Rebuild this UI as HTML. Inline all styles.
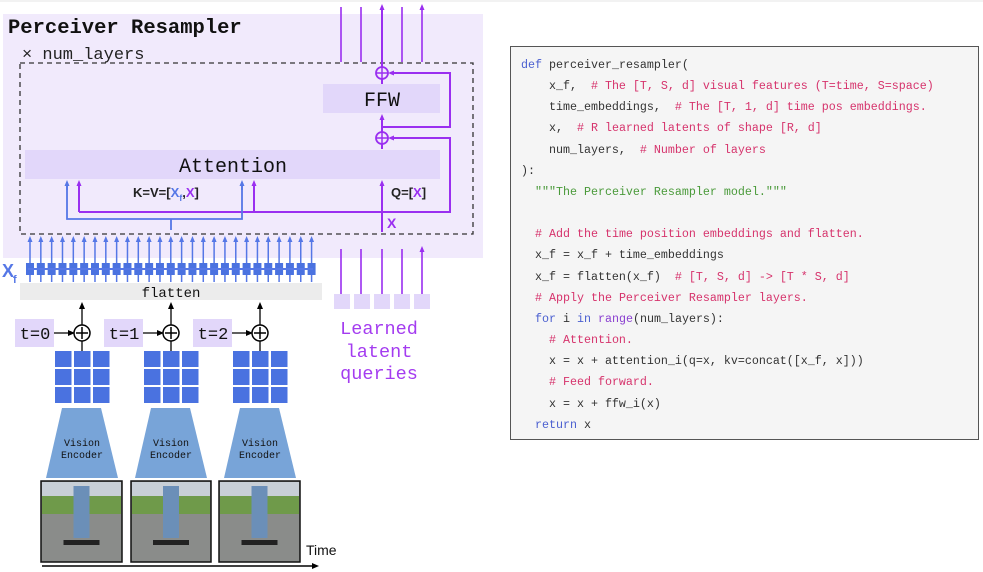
<!DOCTYPE html>
<html><head><meta charset="utf-8"><style>
body{margin:0;background:#fff;width:983px;height:572px;overflow:hidden;position:relative;font-family:"Liberation Sans",sans-serif}
#code{position:absolute;left:510px;top:46px;width:469px;height:394px;background:#f5f5f5;border:1.5px solid #555;box-sizing:border-box}
#code pre{margin:0;position:absolute;left:10px;top:8px;font-family:"Liberation Mono",monospace;font-size:11.67px;line-height:21.15px;color:#333}
.k{color:#4a5fd0}.c{color:#d6336c}.s{color:#4a9a3a}.b{color:#8a3fd0}
</style></head><body>
<svg width="983" height="572" style="position:absolute;left:0;top:0" xmlns="http://www.w3.org/2000/svg">
<defs>
<marker id="ab" markerWidth="6" markerHeight="6" refX="3" refY="3" orient="auto" markerUnits="userSpaceOnUse"><path d="M0,0.5 L6,3 L0,5.5z" fill="#5577e6"/></marker>
<marker id="ap" markerWidth="6" markerHeight="6" refX="3" refY="3" orient="auto" markerUnits="userSpaceOnUse"><path d="M0,0.5 L6,3 L0,5.5z" fill="#9a2ff0"/></marker>
<marker id="ak" markerWidth="7" markerHeight="7" refX="4" refY="3.5" orient="auto" markerUnits="userSpaceOnUse"><path d="M0,0.5 L7,3.5 L0,6.5z" fill="#000"/></marker>
</defs>
<line x1="0" y1="1" x2="983" y2="1" stroke="#e4e4e4"/>
<rect x="3" y="14" width="480" height="244" fill="#f1eafc"/>
<text x="8" y="33" font-family="Liberation Mono,monospace" font-weight="bold" font-size="20.5" fill="#111">Perceiver Resampler</text>
<text x="22" y="59" font-family="Liberation Mono,monospace" font-size="17" fill="#222">× num_layers</text>
<rect x="20" y="63" width="453" height="171" fill="none" stroke="#333" stroke-width="1.3" stroke-dasharray="5,4"/>
<rect x="323" y="84" width="117" height="29" fill="#e2d7fa"/>
<text x="382" y="106" text-anchor="middle" font-family="Liberation Mono,monospace" font-size="20" fill="#111">FFW</text>
<rect x="25" y="150" width="415" height="29" fill="#e2d7fa"/>
<text x="233" y="172" text-anchor="middle" font-family="Liberation Mono,monospace" font-size="20" fill="#111">Attention</text>
<g stroke="#9a2ff0" stroke-width="2" fill="none">
<line x1="382" y1="232" x2="382" y2="183" marker-end="url(#ap)"/>
<line x1="382" y1="149" x2="382" y2="144"/>
<line x1="382" y1="132" x2="382" y2="117" marker-end="url(#ap)"/>
<line x1="382" y1="84" x2="382" y2="79"/>
<polyline points="382,127 450,127 450,73 391,73" marker-end="url(#ap)"/>
<polyline points="382,212 450,212 450,138 391,138" marker-end="url(#ap)"/>
<polyline points="79,212 382,212"/>
<line x1="79" y1="212" x2="79" y2="183" marker-end="url(#ap)"/>
<line x1="254" y1="212" x2="254" y2="183" marker-end="url(#ap)"/>
<circle cx="382" cy="73" r="6" stroke-width="1.8"/><circle cx="382" cy="138" r="6" stroke-width="1.8"/>
<path d="M376,73h12M382,67v12M376,138h12M382,132v12" stroke-width="1.5"/>
<line x1="382" y1="67" x2="382" y2="7" marker-end="url(#ap)"/>
<path d="M341,62V7M361,62V7M402,62V7M422,62V7" stroke-width="1.6" marker-end="url(#ap)"/>
<path d="M341,294V249M361,294V249M382,294V249M402,294V249M422,294V249" stroke-width="1.6" marker-end="url(#ap)"/>
</g>
<g stroke="#5577e6" stroke-width="1.8" fill="none">
<polyline points="67,183 67,219 242,219 242,183"/>
<line x1="67" y1="190" x2="67" y2="183" marker-end="url(#ab)"/>
<line x1="242" y1="190" x2="242" y2="183" marker-end="url(#ab)"/>
<line x1="171" y1="219" x2="171" y2="230"/>
</g>
<text x="133" y="197" font-family="Liberation Sans,sans-serif" font-weight="bold" font-size="13" fill="#222">K=V=[<tspan fill="#5577e6">X</tspan><tspan fill="#5577e6" font-size="9" dy="4">f</tspan><tspan dy="-4">,</tspan><tspan fill="#9a2ff0">X</tspan>]</text>
<text x="391" y="197" font-family="Liberation Sans,sans-serif" font-weight="bold" font-size="13" fill="#222">Q=[<tspan fill="#9a2ff0">X</tspan>]</text>
<text x="387" y="228" font-family="Liberation Sans,sans-serif" font-weight="bold" font-size="14" fill="#9a2ff0">X</text>
<g id="blue"></g>
<line x1="28" y1="269" x2="313" y2="269" stroke="#5577e6" stroke-width="2"/>
<text x="2" y="277" font-family="Liberation Sans,sans-serif" font-weight="bold" font-size="18" fill="#5577e6">X</text>
<text x="13" y="283" font-family="Liberation Sans,sans-serif" font-weight="bold" font-size="11" fill="#5577e6">f</text>
<rect x="20" y="283" width="302" height="17" fill="#ececec"/>
<text x="171" y="297" text-anchor="middle" font-family="Liberation Mono,monospace" font-size="14" fill="#111">flatten</text>
<g fill="#e2d7fa"><rect x="334" y="294" width="16" height="15"/><rect x="354" y="294" width="16" height="15"/><rect x="374" y="294" width="16" height="15"/><rect x="394" y="294" width="16" height="15"/><rect x="414" y="294" width="16" height="15"/></g>
<g font-family="Liberation Mono,monospace" font-size="18.5" fill="#a43cf0" text-anchor="middle">
<text x="379" y="334">Learned</text><text x="379" y="357">latent</text><text x="379" y="379">queries</text></g>
<g id="frames"></g>
<line x1="42" y1="566" x2="316" y2="566" stroke="#000" stroke-width="1.5" marker-end="url(#ak)"/>
<text x="306" y="555" font-family="Liberation Sans,sans-serif" font-size="14" fill="#111">Time</text>
</svg>
<div id="code"><pre><span class="k">def</span> perceiver_resampler(
    x_f,  <span class="c"># The [T, S, d] visual features (T=time, S=space)</span>
    time_embeddings,  <span class="c"># The [T, 1, d] time pos embeddings.</span>
    x,  <span class="c"># R learned latents of shape [R, d]</span>
    num_layers,  <span class="c"># Number of layers</span>
):
  <span class="s">"""The Perceiver Resampler model."""</span>

  <span class="c"># Add the time position embeddings and flatten.</span>
  x_f = x_f + time_embeddings
  x_f = flatten(x_f)  <span class="c"># [T, S, d] -&gt; [T * S, d]</span>
  <span class="c"># Apply the Perceiver Resampler layers.</span>
  <span class="k">for</span> i <span class="k">in</span> <span class="b">range</span>(num_layers):
    <span class="c"># Attention.</span>
    x = x + attention_i(q=x, kv=concat([x_f, x]))
    <span class="c"># Feed forward.</span>
    x = x + ffw_i(x)
  <span class="k">return</span> x</pre></div>
<script>
var ns="http://www.w3.org/2000/svg";
function el(t,a,p){var e=document.createElementNS(ns,t);for(var k in a)e.setAttribute(k,a[k]);p.appendChild(e);return e;}
var g=document.getElementById("blue");
for(var i=0;i<27;i++){var x=30+i*10.83;
el("line",{x1:x,y1:282,x2:x,y2:239,stroke:"#5577e6","stroke-width":1.5,"marker-end":"url(#ab)"},g);
el("rect",{x:x-4,y:263,width:8,height:12,fill:"#4a72e0"},g);}
var f=document.getElementById("frames");
var cs=[82,171,260],pic=[[41,122],[131,211],[219,300]];
for(var j=0;j<3;j++){var c=cs[j];
 el("rect",{x:c-67,y:319,width:39,height:28,fill:"#e2d7fa"},f);
 var t=el("text",{x:c-47,y:339,"text-anchor":"middle","font-family":"Liberation Mono,monospace","font-size":17,fill:"#111"},f);t.textContent="t="+j;
 el("line",{x1:c-28,y1:333,x2:c-10,y2:333,stroke:"#000","stroke-width":1.3,"marker-end":"url(#ak)"},f);
 el("circle",{cx:c,cy:333,r:8,fill:"#fff",stroke:"#000","stroke-width":1.5},f);
 el("path",{d:"M"+(c-6)+",333h12M"+c+",327v12",stroke:"#000","stroke-width":1.5},f);
 el("line",{x1:c,y1:325,x2:c,y2:305,stroke:"#000","stroke-width":1.3,"marker-end":"url(#ak)"},f);
 for(var r=0;r<3;r++)for(var q=0;q<3;q++)el("rect",{x:c-27+q*19,y:351+r*18,width:16.5,height:16,fill:"#4a72e0"},f);
 el("line",{x1:c,y1:341,x2:c,y2:351,stroke:"#000","stroke-width":1.3},f);
 el("polygon",{points:(c-20)+",408 "+(c+19)+",408 "+(c+36)+",478 "+(c-36)+",478",fill:"#78a4d8"},f);
 var a=el("text",{x:c,y:446,"text-anchor":"middle","font-family":"Liberation Mono,monospace","font-size":10,fill:"#111"},f);a.textContent="Vision";
 var b=el("text",{x:c,y:458,"text-anchor":"middle","font-family":"Liberation Mono,monospace","font-size":10,fill:"#111"},f);b.textContent="Encoder";
 var p=pic[j],w=p[1]-p[0];
 el("rect",{x:p[0],y:481,width:w,height:81,fill:"#8a8c8a",stroke:"#111","stroke-width":1.5},f);
 el("rect",{x:p[0]+1,y:482,width:w-2,height:14,fill:"#c8cfd6"},f);
 el("rect",{x:p[0]+1,y:496,width:w-2,height:18,fill:"#6f9a4a"},f);
 el("rect",{x:p[0]+w/2-8,y:486,width:16,height:52,fill:"#6b8fb8"},f);
 el("rect",{x:p[0]+w/2-18,y:540,width:36,height:5,fill:"#222"},f);
}
</script>
</body></html>
